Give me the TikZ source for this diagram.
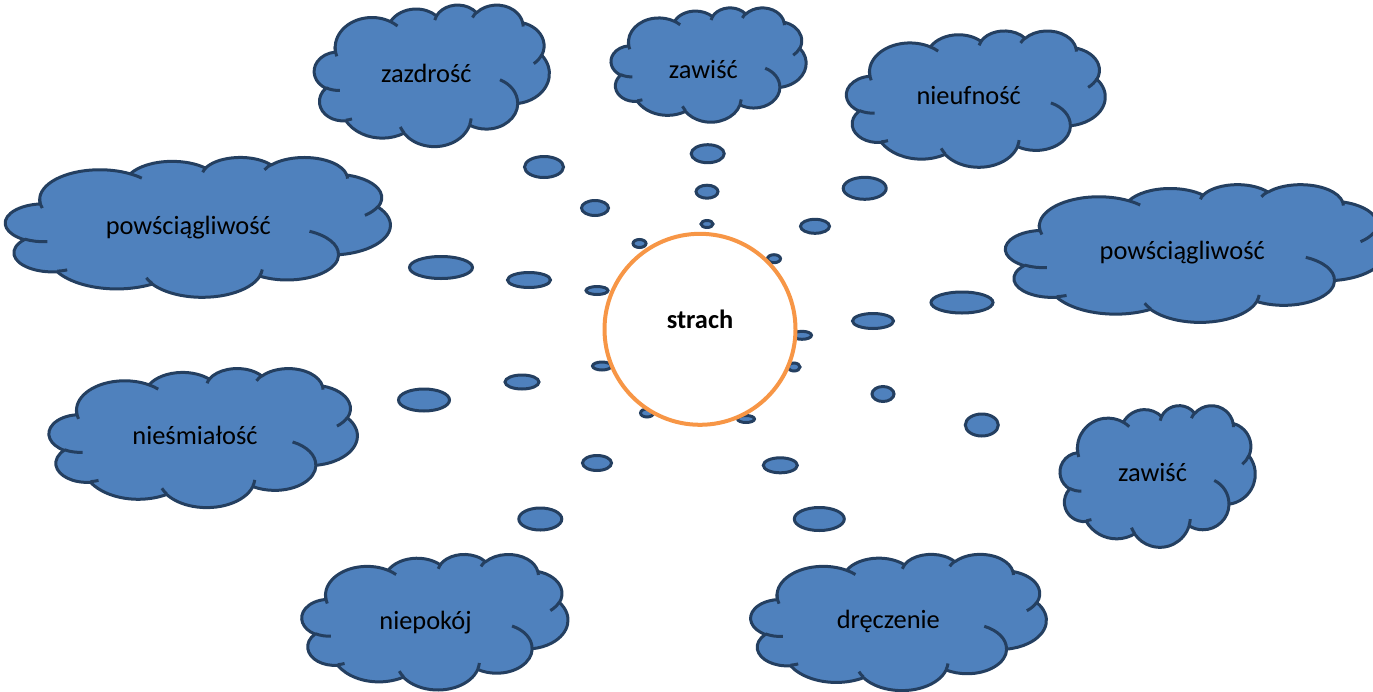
\documentclass[tikz,border=0pt]{standalone}
\usepackage{fontspec}
\setmainfont{Carlito}
\definecolor{cloudblue}{HTML}{4F81BD}
\definecolor{cloudedge}{HTML}{243F60}
\definecolor{ringorange}{HTML}{F79646}

\makeatletter
% Elliptical arc given by radii and visual start/sweep angles (degrees);
% stored as a TikZ style with the matching parametric angles.
\newcommand\defarc[5]{%
  \pgfmathsetmacro\arc@s{atan2((#2)*sin(#4),(#3)*cos(#4))}%
  \pgfmathsetmacro\arc@e{atan2((#2)*sin((#4)+(#5)),(#3)*cos((#4)+(#5)))}%
  \pgfmathsetmacro\arc@d{\arc@e-\arc@s}%
  \ifdim #5pt>0pt
    \ifdim\arc@d pt<0pt \pgfmathsetmacro\arc@d{\arc@d+360}\fi
  \else
    \ifdim\arc@d pt>0pt \pgfmathsetmacro\arc@d{\arc@d-360}\fi
  \fi
  \edef\arc@tmp{\noexpand\tikzset{#1/.style={x radius=#2pt,y radius=#3pt,start angle=\arc@s,delta angle=\arc@d}}}%
  \arc@tmp
}
\makeatother

% outline of the cloud (frame 432 x 432)
\defarc{ca1}{67.53}{91.90}{-190.48748}{123.78053}
\defarc{ca2}{53.33}{72.67}{-144.10238}{89.94523}
\defarc{ca3}{43.65}{59.45}{-145.80792}{99.72302}
\defarc{ca4}{48.57}{65.95}{-130.98607}{117.24173}
\defarc{ca5}{53.33}{72.73}{-78.70888}{109.02692}
\defarc{ca6}{67.75}{92.20}{-46.26725}{130.26900}
\defarc{ca7}{57.85}{78.67}{0.62502}{114.03333}
\defarc{ca8}{67.52}{92.15}{22.45160}{115.17255}
\defarc{ca9}{77.20}{105.43}{66.24263}{75.71102}
\defarc{ca10}{43.60}{59.18}{-274.94208}{146.73557}
\defarc{ca11}{43.45}{59.45}{-246.82850}{152.51885}
% inner creases of the cloud
\defarc{ci1}{43.45}{59.45}{86.74200}{26.42950}
\defarc{ci2}{43.60}{59.18}{73.61047}{11.44747}
\defarc{ci3}{67.52}{92.15}{137.62415}{14.08110}
\defarc{ci4}{67.52}{92.15}{6.45327}{15.99835}
\defarc{ci5}{57.85}{78.67}{-70.29235}{70.91737}
\defarc{ci6}{53.33}{72.73}{30.31803}{27.75150}
\defarc{ci7}{48.57}{65.95}{-13.74433}{14.85890}
\defarc{ci8}{48.57}{65.95}{-149.18145}{18.19537}
\defarc{ci9}{43.65}{59.45}{-163.49427}{17.68635}
\defarc{ci10}{67.53}{91.90}{-66.70695}{12.31935}
\defarc{ci11}{67.53}{91.90}{156.62118}{24.89938}

\tikzset{
  cloudbody/.style={fill=cloudblue,draw=cloudedge,line width=3pt,line join=round},
  cloudcrease/.style={draw=cloudedge,line width=3pt,line cap=butt},
  bubble/.style={fill=cloudblue,draw=cloudedge,line width=3pt},
  cloudtext/.style={font=\fontsize{26.4}{31}\selectfont,text=black,anchor=base,inner sep=0pt},
  core/.style={circle,draw=ringorange,line width=4pt,fill=white,minimum size=191pt,
    inner sep=0pt,font=\bfseries\fontsize{26.4}{31}\selectfont,text height=18pt,text depth=20pt}
}

% cloud in the frame with top-left corner (#1,#2), width #3, height #4
\newcommand\cloudshape[4]{%
  \begin{scope}[shift={(#1,#2)},xscale=#3/432,yscale=#4/432]
    \filldraw[cloudbody] (39.00,143.70) arc[ca1] arc[ca2] arc[ca3] arc[ca4] arc[ca5]
      arc[ca6] arc[ca7] arc[ca8] arc[ca9] arc[ca10] arc[ca11] -- cycle;
    \draw[cloudcrease] (46.93,261.77) arc[ci1] (69.28,348.99) arc[ci2]
      (164.78,390.90) arc[ci3] (288.27,347.51) arc[ci4] (341.29,229.54) arc[ci5]
      (417.98,153.54) arc[ci6] (383.24,54.26) arc[ci7] (290.78,39.52) arc[ci8]
      (221.41,47.20) arc[ci9] (140.00,51.92) arc[ci10] (41.27,157.89) arc[ci11];
  \end{scope}}

\begin{document}
\begin{tikzpicture}[x=1pt,y=1pt,yscale=-1]
  \useasboundingbox (0,0) rectangle (1373,691);
  \clip (0,0) rectangle (1373,691);

  % zazdrość
  \cloudshape{314.3}{4.6}{235}{141.5}
  \node[cloudtext] (zazdrosc) at (426.3,82.7) {zazdrość};
  \draw[bubble] (544,167) ellipse[x radius=19.5pt,y radius=10.5pt];
  \draw[bubble] (595,208) ellipse[x radius=13.5pt,y radius=7.5pt];
  \draw[bubble] (639.5,243.5) ellipse[x radius=6.5pt,y radius=4pt];

  % zawiść (top)
  \cloudshape{611.1}{7.5}{195}{114.3}
  \node[cloudtext] (zawisctop) at (703.3,78.5) {zawiść};
  \draw[bubble] (707.7,153.7) ellipse[x radius=16.5pt,y radius=9pt];
  \draw[bubble] (707,191.7) ellipse[x radius=11pt,y radius=6.5pt];
  \draw[bubble] (707,224) ellipse[x radius=6pt,y radius=3.5pt];

  % nieufność
  \cloudshape{846.5}{30.5}{258.7}{136.3}
  \node[cloudtext] (nieufnosc) at (968.7,104.3) {nieufność};
  \draw[bubble] (864.7,188.3) ellipse[x radius=21.5pt,y radius=11pt];
  \draw[bubble] (815,226.3) ellipse[x radius=14.5pt,y radius=7pt];
  \draw[bubble] (774,258.7) ellipse[x radius=6.5pt,y radius=4pt];

  % powściągliwość (left)
  \cloudshape{5.5}{157}{384.8}{139.8}
  \node[cloudtext] (powsciagl) at (188.3,234) {powściągliwość};
  \draw[bubble] (441,267.5) ellipse[x radius=31.5pt,y radius=11pt];
  \draw[bubble] (529,280) ellipse[x radius=21.5pt,y radius=7.5pt];
  \draw[bubble] (597,290.5) ellipse[x radius=11pt,y radius=4pt];

  % powściągliwość (right)
  \cloudshape{1005.6}{184.2}{380}{137.7}
  \node[cloudtext] (powsciagr) at (1182.2,259.5) {powściągliwość};
  \draw[bubble] (962,302.5) ellipse[x radius=31pt,y radius=10.5pt];
  \draw[bubble] (873,321) ellipse[x radius=20.5pt,y radius=7.5pt];
  \draw[bubble] (802,335.3) ellipse[x radius=9.5pt,y radius=4pt];

  % nieśmiałość
  \cloudshape{49.1}{368.1}{308.2}{139}
  \node[cloudtext] (niesmialosc) at (195,444) {nieśmiałość};
  \draw[bubble] (424,400) ellipse[x radius=25.5pt,y radius=11pt];
  \draw[bubble] (522,382) ellipse[x radius=17pt,y radius=7pt];
  \draw[bubble] (602,366) ellipse[x radius=9.5pt,y radius=4pt];

  % zawiść (right)
  \cloudshape{1060.1}{405.2}{195.1}{141.6}
  \node[cloudtext] (zawiscr) at (1152.5,481.7) {zawiść};
  \draw[bubble] (981.8,425) ellipse[x radius=16.5pt,y radius=11pt];
  \draw[bubble] (883,394) ellipse[x radius=11pt,y radius=7.5pt];
  \draw[bubble] (794,367) ellipse[x radius=6pt,y radius=4pt];

  % niepokój
  \cloudshape{301.9}{554}{266}{135.5}
  \node[cloudtext] (niepokoj) at (425.5,629.3) {niepokój};
  \draw[bubble] (540.3,519) ellipse[x radius=21.5pt,y radius=11pt];
  \draw[bubble] (597,463) ellipse[x radius=14.5pt,y radius=7.5pt];
  \draw[bubble] (647,413) ellipse[x radius=6.5pt,y radius=4pt];

  % dręczenie
  \cloudshape{750.8}{553.9}{295.5}{136.2}
  \node[cloudtext] (dreczenie) at (888.3,628.3) {dręczenie};
  \draw[bubble] (819.3,519) ellipse[x radius=25pt,y radius=11.5pt];
  \draw[bubble] (780.3,465.3) ellipse[x radius=17pt,y radius=7.5pt];
  \draw[bubble] (746,419) ellipse[x radius=8.5pt,y radius=3.5pt];

  % central circle, drawn last so it covers the inner bubbles
  \node[core] (strach) at (700,329.3) {strach};
\end{tikzpicture}
\end{document}
